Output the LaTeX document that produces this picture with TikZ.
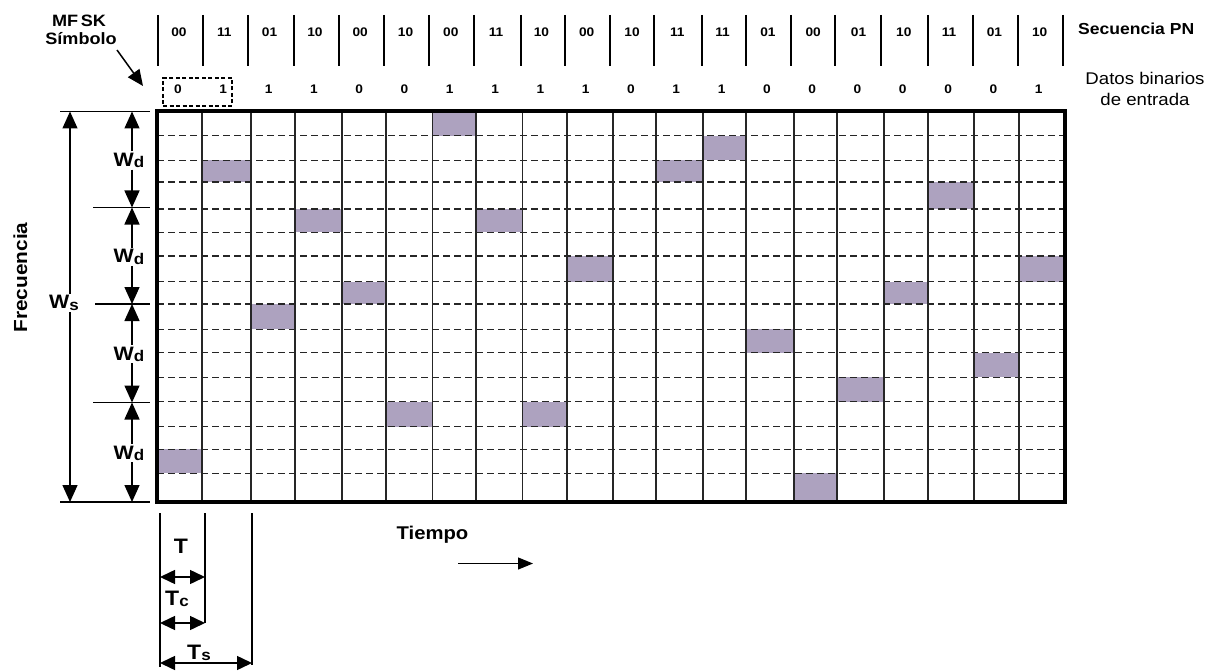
\documentclass[tikz,border=0pt]{standalone}
\usepackage{fontspec}
\setmainfont{Liberation Sans}[FakeStretch=1.1]
\usetikzlibrary{arrows.meta}
\definecolor{hopcol}{RGB}{173,162,191}
\newcommand\fs[1]{\fontsize{#1}{#1}\selectfont}
\begin{document}
\begin{tikzpicture}[x=1bp,y=-1bp,
  lbl/.style={inner sep=0pt, font=\bfseries\fs{12.5}},
  big/.style={inner sep=1.5pt, font=\bfseries\fs{19.5}},
  gridv/.style={line width=1.5bp, draw=black!85},
  gridh/.style={line width=1.5bp, draw=black!85, dash pattern=on 7bp off 4bp},
  cell/.style={fill=hopcol},
  dimln/.style={line width=1.4bp},
  dim/.style={line width=1.5bp, -{Triangle[width=15bp,length=17bp]}},
  dimtwo/.style={line width=1.5bp, {Triangle[width=14bp,length=15bp]}-{Triangle[width=14bp,length=15bp]}},
]
\useasboundingbox (0,0) rectangle (1225,671);

% grid coordinates
\foreach \x [count=\i from 0] in {157,202,251,295,342,386,432.5,476,522.5,567,613,656,703,746,794,837,884,928,974,1019,1065}
  \coordinate (c\i) at (\x,0);
\foreach \y [count=\j from 0] in {111,135.7,160.3,182,209,232.3,256,281.7,304,329.3,352.7,377.3,401.7,426.7,449.3,473.3,502}
  \coordinate (r\j) at (0,\y);

% hop cells
\foreach \i/\r in {0/14,1/2,2/8,3/4,4/7,5/12,6/0,7/4,8/12,9/6,11/2,12/1,13/9,14/15,15/11,16/7,17/3,18/10,19/6}{
  \pgfmathtruncatemacro\ii{\i+1}
  \pgfmathtruncatemacro\rr{\r+1}
  \fill[cell] (c\i |- r\r) rectangle (c\ii |- r\rr);
}

% dashed horizontal lines
\foreach \j in {1,...,15}
  \draw[gridh] (c0 |- r\j) -- (c20 |- r\j);
% vertical lines
\foreach \i in {1,...,19}
  \draw[gridv] (c\i |- r0) -- (c\i |- r16);
% border
\draw[line width=4bp] (c0 |- r0) rectangle (c20 |- r16);

% PN separators
\foreach \x [count=\i from 0] in {158,203,248,294,339,384,429,474,521,565,610,654,702,746,791,835,881,928,973,1018,1063}{
  \coordinate (pt\i) at (\x,15);
  \coordinate (pb\i) at (\x,66);
  \draw[line width=1.4bp] (pt\i) -- (pb\i);
}
% PN labels
\foreach \t [count=\i from 0] in {00,11,01,10,00,10,00,11,10,00,10,11,11,01,00,01,10,11,01,10}
  \node[lbl] (pn\i) at ({179+45.3*\i},32) {\t};
% data bits
\foreach \t [count=\i from 0] in {0,1,1,1,0,0,1,1,1,1,0,1,1,0,0,0,0,0,0,1}
  \node[lbl] (bit\i) at ({178+45.3*\i},89.5) {\t};

% symbol box
\node[draw, dash pattern=on 4bp off 2.5bp, line width=1.2bp, minimum width=69bp, minimum height=28bp, inner sep=0pt] (sym) at (197.5,92) {};

% right labels
\node[anchor=base west, inner sep=0pt, font=\bfseries\fs{16}] (seq) at (1078,34.3) {Secuencia PN};
\node[anchor=base, inner sep=0pt, font=\fs{17}] (dat1) at (1145,84.3) {Datos binarios};
\node[anchor=base, inner sep=0pt, font=\fs{17}] (dat2) at (1145,106) {de entrada};

% MFSK symbol label
\node[anchor=base, inner sep=0pt, font=\bfseries\fs{16.5}] (mf) at (79,27) {MF\,SK};
\node[anchor=base, inner sep=0pt, font=\bfseries\fs{16.5}] (simb) at (81,45) {Símbolo};
\coordinate (mfa) at (117,50);
\coordinate (mfb) at (143,86);
\draw[line width=1.5bp, -{Triangle[width=14bp,length=16bp]}] (mfa) -- (mfb);

% Frecuencia
\node[anchor=base, rotate=90, inner sep=0pt, font=\bfseries\fs{19}] (freq) at (27,277.5) {Frecuencia};

% left dimension lines
\coordinate (e1a) at (60,111.5);  \coordinate (e1b) at (150,111.5);
\coordinate (e2a) at (93,207.5);  \coordinate (e2b) at (150,207.5);
\coordinate (e3a) at (95,304);    \coordinate (e3b) at (150,304);
\coordinate (e4a) at (93,402.5);  \coordinate (e4b) at (150,402.5);
\coordinate (e5a) at (60,502);    \coordinate (e5b) at (150,502);
\foreach \k in {1,...,5}
  \draw[dimln] (e\k a) -- (e\k b);

% Ws
\node[big] (ws) at (64,303) {W\raisebox{-1.5bp}{\fs{15.5}s}};
\coordinate (wst) at (70,111.5);
\coordinate (wsb) at (70,502);
\draw[dim] (ws.north -| wst) -- (wst);
\draw[dim] (ws.south -| wsb) -- (wsb);

% Wd
\foreach \k/\yt/\yb in {1/111.5/207.5, 2/207.5/304, 3/304/402.5, 4/402.5/502}{
  \node[big] (wd\k) at (129,{(\yt+\yb)/2+1}) {W\raisebox{-1.5bp}{\fs{15.5}d}};
  \coordinate (wdt\k) at (132,\yt);
  \coordinate (wdb\k) at (132,\yb);
  \draw[dim] (wd\k.north -| wdt\k) -- (wdt\k);
  \draw[dim] (wd\k.south -| wdb\k) -- (wdb\k);
}

% Tiempo
\node[anchor=base, inner sep=0pt, font=\bfseries\fs{18.5}] (tiempo) at (432.5,539.3) {Tiempo};
\coordinate (ta) at (458,563.5);
\coordinate (tb) at (533,563.5);
\draw[line width=1.2bp, -{Triangle[width=12bp,length=15bp]}] (ta) -- (tb);

% bottom time dimensions
\coordinate (v1a) at (160,513); \coordinate (v1b) at (160,667);
\coordinate (v2a) at (205,513); \coordinate (v2b) at (205,623);
\coordinate (v3a) at (252,513); \coordinate (v3b) at (252,665);
\foreach \k in {1,2,3}
  \draw[dimln] (v\k a) -- (v\k b);
\node[anchor=base, inner sep=0pt, font=\bfseries\fs{21}] (tT) at (181,553) {T};
\node[anchor=base, inner sep=0pt, font=\bfseries\fs{21}] (tTc) at (177,605) {T\raisebox{-1bp}{\fs{15.5}c}};
\node[anchor=base, inner sep=0pt, font=\bfseries\fs{21}] (tTs) at (199,659) {T\raisebox{-1bp}{\fs{15.5}s}};
\draw[dimtwo] (v1a |- 0,577) -- (v2a |- 0,577);
\draw[dimtwo] (v1a |- 0,623) -- (v2a |- 0,623);
\draw[dimtwo] (v1a |- 0,663) -- (v3a |- 0,663);
\end{tikzpicture}
\end{document}
